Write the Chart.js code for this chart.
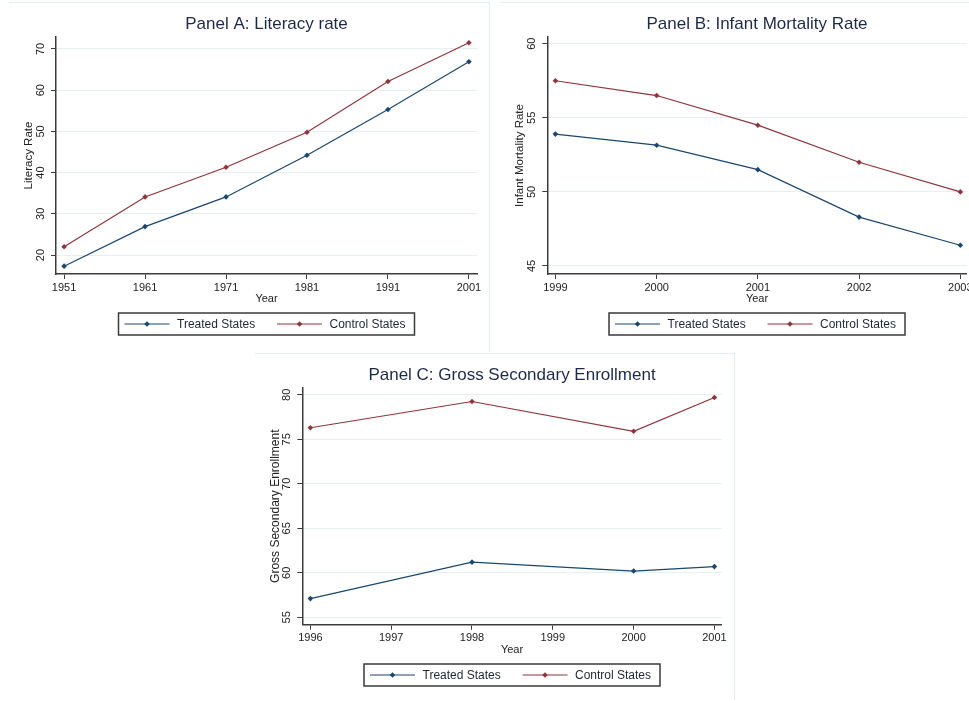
<!DOCTYPE html>
<html>
<head>
<meta charset="utf-8">
<script src="https://cdn.jsdelivr.net/npm/chart.js@4.4.1/dist/chart.umd.min.js"></script>
<style>
  html, body { margin: 0; padding: 0; background: #fff; overflow: hidden; width: 969px; height: 703px; }
  canvas { position: absolute; }
  .rule { position: absolute; background: #e3ecef; }
</style>
</head>
<body>
<div class="rule" style="left:9px; top:2px; width:480px; height:1px;"></div>
<div class="rule" style="left:489px; top:2px; width:1px; height:350px;"></div>
<div class="rule" style="left:500px; top:2px; width:469px; height:1px;"></div>
<div class="rule" style="left:255px; top:353px; width:479px; height:1px;"></div>
<div class="rule" style="left:734px; top:353px; width:1px; height:347px;"></div>

<canvas id="panelA" width="490" height="345" style="left:0; top:0;"></canvas>
<canvas id="panelB" width="490" height="345" style="left:490px; top:0;"></canvas>
<canvas id="panelC" width="490" height="353" style="left:250px; top:350px;"></canvas>

<script>
// Panel A: literacy rate
const yearsA = [1951, 1961, 1971, 1981, 1991, 2001];
const literacyTreated = [17.3, 26.9, 34.1, 44.2, 55.3, 66.9];
const literacyControl = [22.0, 34.1, 41.3, 49.8, 62.1, 71.5];
const yTicksA = [20, 30, 40, 50, 60, 70];

// Panel B: infant mortality
const yearsB = [1999, 2000, 2001, 2002, 2003];
const imrTreated = [53.9, 53.15, 51.5, 48.3, 46.4];
const imrControl = [57.5, 56.5, 54.5, 52.0, 50.0];
const yTicksB = [45, 50, 55, 60];

// Panel C: gross secondary enrollment
const yearsC = [1996, 1998, 2000, 2001];
const xTicksC = [1996, 1997, 1998, 1999, 2000, 2001];
const enrollTreated = [57.1, 61.2, 60.2, 60.7];
const enrollControl = [76.3, 79.25, 75.9, 79.7];
const yTicksC = [55, 60, 65, 70, 75, 80];

const seriesNames = ["Treated States", "Control States"];
const TREATED = "#1a476f";
const CONTROL = "#90353b";
const FONT = "'Liberation Sans', Arial, sans-serif";
const AXIS = "#3c3c3c";
const GRID = "#e6eff1";

function pts(xs, ys) {
  return xs.map((x, i) => ({ x, y: ys[i] }));
}

// title centred over the plot area + Stata-style boxed legend
const panelDecor = {
  id: "panelDecor",
  afterDraw(chart) {
    const o = chart.options.plugins.panelDecor;
    const ctx = chart.ctx;
    const a = chart.chartArea;
    const cx = (a.left + a.right) / 2;
    ctx.save();
    ctx.fillStyle = "#1c2a48";
    ctx.font = "17px " + FONT;
    ctx.textAlign = "center";
    ctx.textBaseline = "middle";
    ctx.fillText(o.title, cx, o.titleY);

    // legend box
    const w = 296, h = 22;
    const left = cx - w / 2, top = o.legendY;
    ctx.strokeStyle = "#3a3a3a";
    ctx.lineWidth = 1.5;
    ctx.strokeRect(left, top, w, h);
    const mid = top + h / 2;
    const offs = [6, 158.5];
    chart.data.datasets.forEach((ds, i) => {
      const x0 = left + offs[i];
      ctx.strokeStyle = ds.borderColor;
      ctx.lineWidth = 1.2;
      ctx.beginPath();
      ctx.moveTo(x0, mid);
      ctx.lineTo(x0 + 45, mid);
      ctx.stroke();
      ctx.fillStyle = ds.borderColor;
      ctx.beginPath();
      ctx.moveTo(x0 + 22.5, mid - 2.8);
      ctx.lineTo(x0 + 25.3, mid);
      ctx.lineTo(x0 + 22.5, mid + 2.8);
      ctx.lineTo(x0 + 19.7, mid);
      ctx.closePath();
      ctx.fill();
      ctx.fillStyle = "#1f2633";
      ctx.font = "12px " + FONT;
      ctx.textAlign = "left";
      ctx.fillText(ds.label, x0 + 52.5, mid + 0.5);
    });
    ctx.restore();
  }
};

function makePanel(id, p) {
  const ds = (label, data, color) => ({
    label, data,
    borderColor: color, backgroundColor: color,
    borderWidth: 1.2,
    pointStyle: "rectRot", pointRadius: 2.8, pointBorderWidth: 0,
    tension: 0
  });
  return new Chart(document.getElementById(id), {
    type: "line",
    data: {
      datasets: [
        ds(seriesNames[0], pts(p.xs, p.treated), TREATED),
        ds(seriesNames[1], pts(p.xs, p.control), CONTROL)
      ]
    },
    options: {
      responsive: false,
      animation: false,
      devicePixelRatio: 1,
      layout: { padding: { left: 0, top: p.top, right: p.right, bottom: p.bottom } },
      plugins: {
        legend: { display: false },
        title: { display: false },
        tooltip: { enabled: false },
        panelDecor: { title: p.title, titleY: p.titleY, legendY: p.legendY }
      },
      scales: {
        x: {
          type: "linear",
          min: p.xMin, max: p.xMax,
          afterBuildTicks: s => { s.ticks = p.xTicks.map(v => ({ value: v })); },
          afterFit: s => { s.height = 32; },
          grid: { drawOnChartArea: false, drawTicks: true, tickLength: 5, tickColor: AXIS, tickWidth: 1 },
          border: { color: AXIS, width: 1.5 },
          ticks: { color: "#222", font: { family: FONT, size: 11 }, padding: 2, maxRotation: 0, callback: v => String(v) },
          title: { display: true, text: "Year", color: "#222", font: { family: FONT, size: 11 }, padding: 0 }
        },
        y: {
          type: "linear",
          min: p.yMin, max: p.yMax,
          afterBuildTicks: s => { s.ticks = p.yTicks.map(v => ({ value: v })); },
          afterFit: s => { s.width = p.yWidth; },
          grid: { color: GRID, lineWidth: 1, tickLength: 5, tickColor: AXIS, tickWidth: 1 },
          border: { color: AXIS, width: 1.5 },
          ticks: { color: "#222", font: { family: FONT, size: 11 }, padding: p.yPad, minRotation: 90, maxRotation: 90, crossAlign: "center" },
          title: { display: true, text: p.yTitle, color: "#222", font: { family: FONT, size: p.yTitleSize }, padding: { top: p.yTitlePad, bottom: 0 } }
        }
      }
    },
    plugins: [panelDecor]
  });
}

makePanel("panelA", {
  title: "Panel A: Literacy rate", yTitle: "Literacy Rate", yTitleSize: 11.5,
  xs: yearsA, treated: literacyTreated, control: literacyControl,
  xTicks: yearsA, yTicks: yTicksA,
  xMin: 1950.0, xMax: 2002.0, yMin: 15.4, yMax: 72.9,
  top: 37, right: 13, bottom: 39, yWidth: 56, yPad: 3.7, yTitlePad: 22,
  titleY: 24.5, legendY: 313
});

makePanel("panelB", {
  title: "Panel B: Infant Mortality Rate", yTitle: "Infant Mortality Rate", yTitleSize: 11.5,
  xs: yearsB, treated: imrTreated, control: imrControl,
  xTicks: yearsB, yTicks: yTicksB,
  xMin: 1998.92, xMax: 2003.063, yMin: 44.46, yMax: 60.45,
  top: 37, right: 13.3, bottom: 39, yWidth: 57.3, yPad: 4, yTitlePad: 23.4,
  titleY: 24.5, legendY: 313
});

makePanel("panelC", {
  title: "Panel C: Gross Secondary Enrollment", yTitle: "Gross Secondary Enrollment", yTitleSize: 12,
  xs: yearsC, treated: enrollTreated, control: enrollControl,
  xTicks: xTicksC, yTicks: yTicksC,
  xMin: 1995.9, xMax: 2001.09, yMin: 54.17, yMax: 80.8,
  top: 37.7, right: 18.3, bottom: 46.3, yWidth: 52.3, yPad: 4.2, yTitlePad: 18.1,
  titleY: 25.3, legendY: 314
});
</script>
</body>
</html>
